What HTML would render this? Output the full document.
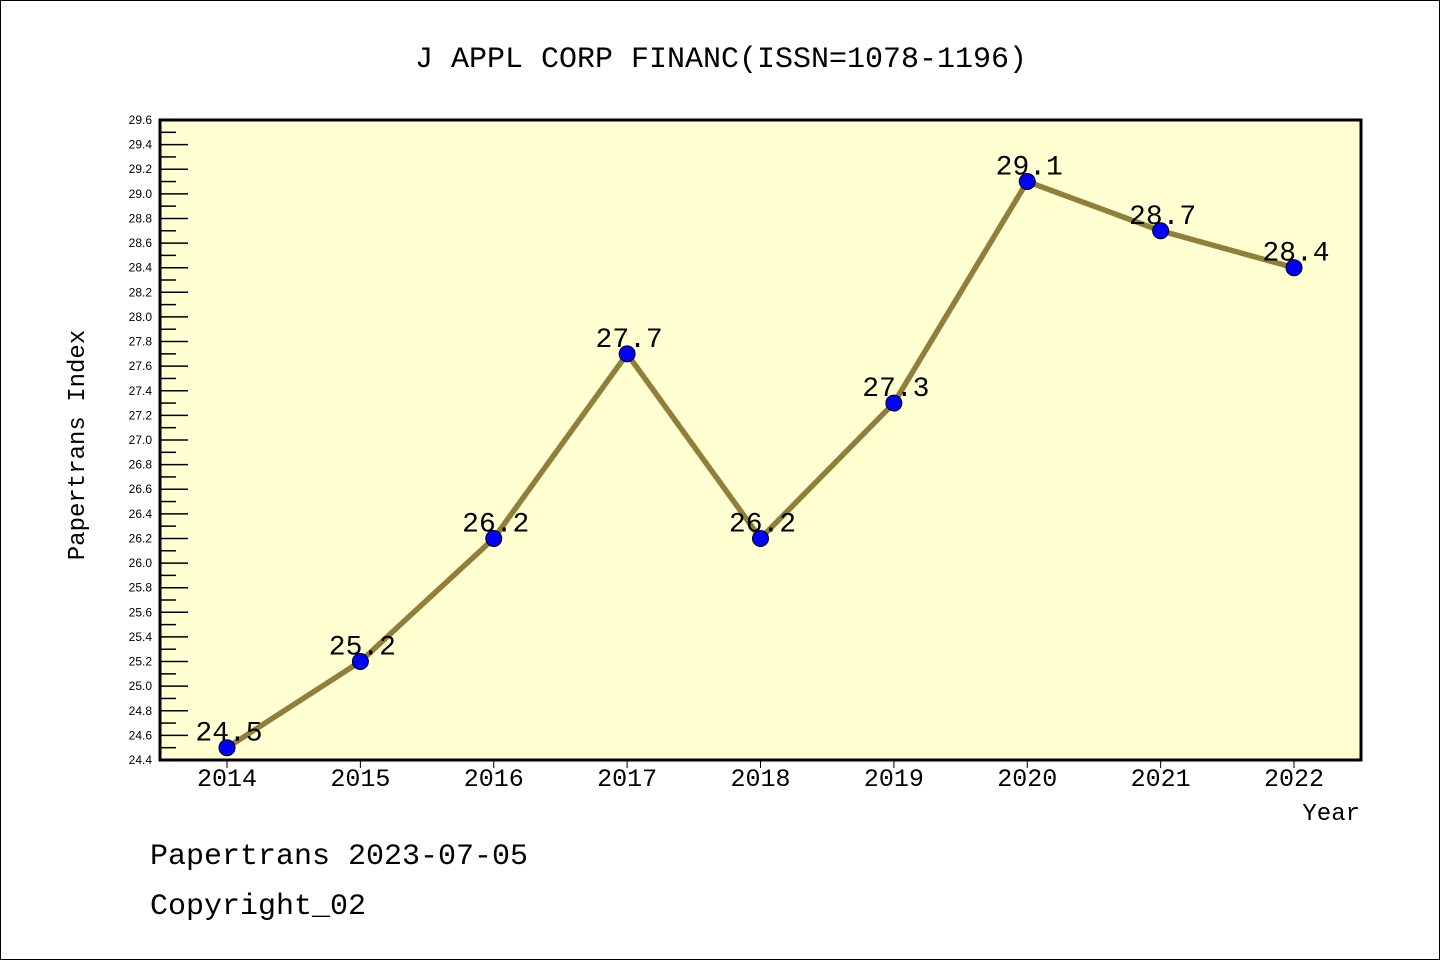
<!DOCTYPE html>
<html><head><meta charset="utf-8"><style>
body{margin:0;background:#fff}
svg{display:block;font-family:"Liberation Mono","DejaVu Sans Mono",monospace}
</style></head><body>
<svg width="1440" height="960" viewBox="0 0 1440 960">
<rect x="0.5" y="0.5" width="1439" height="959" fill="#fff" stroke="#000"/>
<text x="721" y="67" text-anchor="middle" font-size="30">J APPL CORP FINANC(ISSN=1078-1196)</text>
<rect x="160" y="120" width="1201" height="640" fill="#ffffd2"/>
<g id="yaxis"></g>
<g id="xaxis"></g>
<g id="marks"></g>
<rect x="160" y="120" width="1201" height="640" fill="none" stroke="#000" stroke-width="3"/>
<text transform="translate(84,445) rotate(-90)" text-anchor="middle" font-size="24">Papertrans Index</text>
<text x="1360" y="820" text-anchor="end" font-size="24">Year</text>
<text x="150" y="864" font-size="30">Papertrans 2023-07-05</text>
<text x="150" y="914" font-size="30">Copyright_02</text>
</svg>
<script>
const years=["2014","2015","2016","2017","2018","2019","2020","2021","2022"];
const values=[24.5,25.2,26.2,27.7,26.2,27.3,29.1,28.7,28.4];
const yTicks=[24.4,24.6,24.8,25.0,25.2,25.4,25.6,25.8,26.0,26.2,26.4,26.6,26.8,27.0,27.2,27.4,27.6,27.8,28.0,28.2,28.4,28.6,28.8,29.0,29.2,29.4,29.6];
const NS="http://www.w3.org/2000/svg";
const yMin=24.4,yMax=29.6;
function ys(v){return 760-(v-yMin)/(yMax-yMin)*640;}
function xs(i){return 227+i*(1294-227)/(years.length-1);}
function mk(t,a,p){const e=document.createElementNS(NS,t);for(const k in a)e.setAttribute(k,a[k]);p.appendChild(e);return e;}
const ya=document.getElementById('yaxis'),xa=document.getElementById('xaxis'),mg=document.getElementById('marks');
yTicks.forEach((v,i)=>{
  const y=ys(v);
  const l=mk('line',{x1:160,x2:188,y1:y,y2:y,stroke:'#000','stroke-width':1.5},ya);
  
  
  const t=mk('text',{x:152,y:y+4,'text-anchor':'end','font-size':12,'font-family':'Liberation Sans, sans-serif'},ya);
  t.textContent=v.toFixed(1);
  
  
  if(i<yTicks.length-1){
    const ym=ys(v+0.1);
    const m=mk('line',{x1:160,x2:176,y1:ym,y2:ym,stroke:'#000','stroke-width':1.5},ya);
    
    
  }
});
years.forEach((yr,i)=>{
  const x=xs(i);
  const l=mk('line',{x1:x,x2:x,y1:760,y2:768,stroke:'#000','stroke-width':1},xa);
  
  
  const t=mk('text',{x:x,y:786,'text-anchor':'middle','font-size':25},xa);
  t.textContent=yr;
  
  
});
const pts=values.map((v,i)=>xs(i)+','+ys(v)).join(' ');
const pl=mk('polyline',{points:pts,fill:'none',stroke:'#8f7f3a','stroke-width':5.5,'stroke-linejoin':'round'},mg);


values.forEach((v,i)=>{
  const c=mk('circle',{cx:xs(i),cy:ys(v),r:8,fill:'#0000ff',stroke:'#000','stroke-width':1},mg);
  
  
  const t=mk('text',{x:xs(i)+2,y:ys(v)-7,'text-anchor':'middle','font-size':28},mg);
  t.textContent=v.toFixed(1);
  
  
});
</script>
</body></html>
